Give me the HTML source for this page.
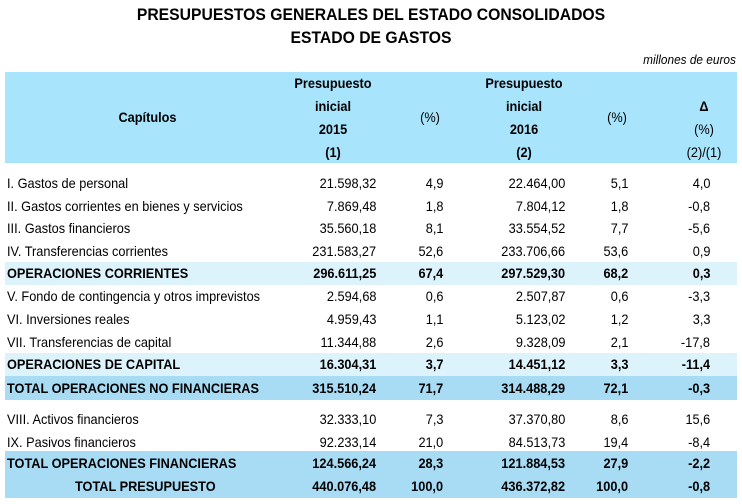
<!DOCTYPE html>
<html><head><meta charset="utf-8"><style>
body{margin:0;width:742px;height:504px;background:#fff;font-family:"Liberation Sans Narrow","Liberation Sans",Arial,sans-serif;color:#000;position:relative;overflow:hidden}
.t{position:absolute;left:0;width:742px;text-align:center;font-weight:bold;font-size:17px;transform:scaleX(.925);transform-origin:371px 0}
.band{position:absolute;left:5px;width:732px}
.c{position:absolute;font-size:14px;white-space:nowrap;line-height:22px}
.l{transform:scaleX(.91);transform-origin:left center}
.r{text-align:right;transform:scaleX(.91);transform-origin:right center}
.b{font-weight:bold}
.h{position:absolute;font-size:14px;font-weight:bold;text-align:center;line-height:23px;transform:scaleX(.91)}
</style></head><body>
<div class="t" style="top:5px">PRESUPUESTOS GENERALES DEL ESTADO CONSOLIDADOS</div>
<div class="t" style="top:28px">ESTADO DE GASTOS</div>
<div class="c" style="right:6px;top:49px;font-style:italic;font-size:13px;transform:scaleX(.91);transform-origin:right center">millones de euros</div>
<div class="band" style="top:72px;height:91px;background:#a8e4fc"></div>
<div class="band" style="top:262px;height:23px;background:#ddf3fc"></div>
<div class="band" style="top:353px;height:23px;background:#ddf3fc"></div>
<div class="band" style="top:376px;height:24px;background:#a8dcf5"></div>
<div class="band" style="top:451px;height:24px;background:#a8dcf5"></div>
<div class="band" style="top:475px;height:23px;background:#a8dcf5"></div>
<div class="h" style="left:60px;width:175px;top:106px">Capítulos</div>
<div class="h" style="left:273px;width:120px;top:72px">Presupuesto<br>inicial<br>2015<br>(1)</div>
<div class="h" style="left:400px;width:60px;top:106px;font-weight:normal">(%)</div>
<div class="h" style="left:464px;width:120px;top:72px">Presupuesto<br>inicial<br>2016<br>(2)</div>
<div class="h" style="left:587px;width:60px;top:106px;font-weight:normal">(%)</div>
<div class="h" style="left:664px;width:80px;top:95px;font-weight:normal"><b>Δ</b><br>(%)<br>(2)/(1)</div>
<div id="rows"></div>
<script>
const labels=["I. Gastos de personal","II. Gastos corrientes en bienes y servicios","III. Gastos financieros","IV. Transferencias corrientes","OPERACIONES CORRIENTES","V. Fondo de contingencia y otros imprevistos","VI. Inversiones reales","VII. Transferencias de capital","OPERACIONES DE CAPITAL","TOTAL OPERACIONES NO FINANCIERAS","VIII. Activos financieros","IX. Pasivos financieros","TOTAL OPERACIONES FINANCIERAS","TOTAL PRESUPUESTO"];
const v2015=["21.598,32","7.869,48","35.560,18","231.583,27","296.611,25","2.594,68","4.959,43","11.344,88","16.304,31","315.510,24","32.333,10","92.233,14","124.566,24","440.076,48"];
const p2015=["4,9","1,8","8,1","52,6","67,4","0,6","1,1","2,6","3,7","71,7","7,3","21,0","28,3","100,0"];
const v2016=["22.464,00","7.804,12","33.554,52","233.706,66","297.529,30","2.507,87","5.123,02","9.328,09","14.451,12","314.488,29","37.370,80","84.513,73","121.884,53","436.372,82"];
const p2016=["5,1","1,8","7,7","53,6","68,2","0,6","1,2","2,1","3,3","72,1","8,6","19,4","27,9","100,0"];
const delta=["4,0","-0,8","-5,6","0,9","0,3","-3,3","3,3","-17,8","-11,4","-0,3","15,6","-8,4","-2,2","-0,8"];
const bold=[4,8,9,12,13];
const tops=[172,195,217,240,262,285,308,331,353,377,408,431,452,475];
const host=document.getElementById('rows');
function cell(txt,style,cls,name){const d=document.createElement('div');d.className='c '+cls;d.textContent=txt;d.style.cssText=style;


host.appendChild(d);}
labels.forEach((l,i)=>{const t=tops[i];const b=bold.includes(i)?' b':'';
const lx=i===13?'left:75px;':'left:7px;';
cell(l,lx+'top:'+t+'px','l'+b,'row-label');
cell(v2015[i],'right:366px;top:'+t+'px','r'+b,'value-2015');
cell(p2015[i],'right:299px;top:'+t+'px','r'+b,'pct-2015');
cell(v2016[i],'right:177px;top:'+t+'px','r'+b,'value-2016');
cell(p2016[i],'right:114px;top:'+t+'px','r'+b,'pct-2016');
cell(delta[i],'right:32px;top:'+t+'px','r'+b,'delta-pct');});
</script>
</body></html>
